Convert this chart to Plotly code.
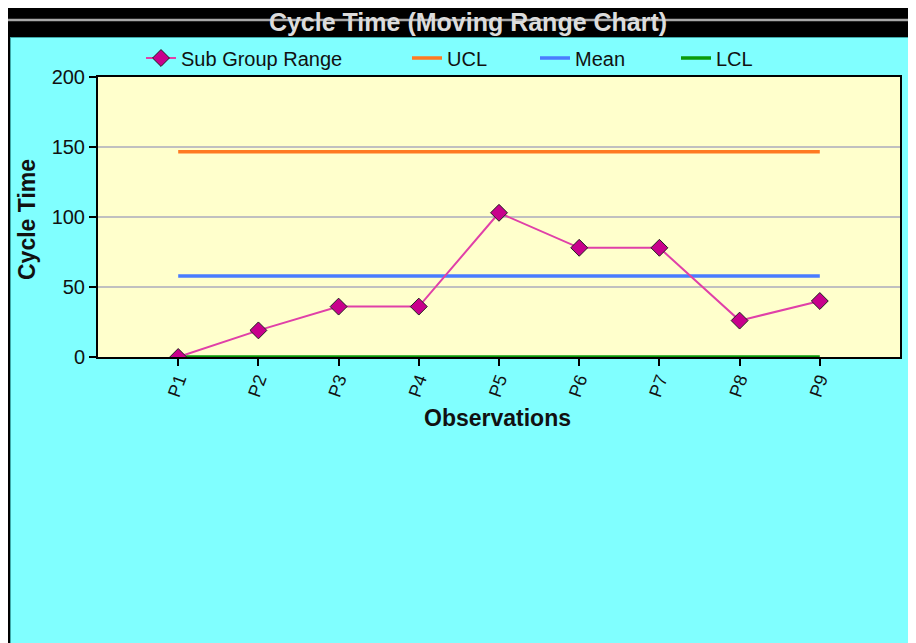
import plotly.graph_objects as go

categories = ["P1", "P2", "P3", "P4", "P5", "P6", "P7", "P8", "P9"]
sub_group_range = [0, 19, 36, 36, 103, 78, 78, 26, 40]
ucl_value = 146.6
mean_value = 57.9
lcl_value = 0
y_ticks = [0, 50, 100, 150, 200]

# the page adds an 8px body margin; coordinates below are page pixels
OFF = 8
W, H = 916 - OFF, 643 - OFF
L, R, T, B = 98 - OFF, 900 - OFF, 77 - OFF, 357 - OFF  # plot area in figure pixels


def px(x):
    return (x - OFF - L) / (R - L)


def py(y):
    return (B - (y - OFF)) / (B - T)


FONT = "Liberation Sans"

fig = go.Figure()

fig.add_trace(go.Scatter(
    x=categories, y=[ucl_value] * len(categories), mode="lines", name="UCL",
    line=dict(color="#ff7a22", width=3.5), legend="legend2"))
fig.add_trace(go.Scatter(
    x=categories, y=[mean_value] * len(categories), mode="lines", name="Mean",
    line=dict(color="#4a7cff", width=3.5), legend="legend3"))
fig.add_trace(go.Scatter(
    x=categories, y=[lcl_value] * len(categories), mode="lines", name="LCL",
    line=dict(color="#0a9a0a", width=3.5), legend="legend4"))
fig.add_trace(go.Scatter(
    x=categories, y=sub_group_range, mode="lines+markers", name="Sub Group Range",
    line=dict(color="#e040a8", width=2),
    marker=dict(symbol="diamond", size=13, color="#c8008c",
                line=dict(color="#202020", width=1)),
    legend="legend"))

shapes = [
    dict(type="rect", xref="paper", yref="paper", x0=px(8), x1=px(916 + 20), y0=py(6), y1=py(37),
         fillcolor="#000000", line=dict(width=0), layer="below"),
    dict(type="rect", xref="paper", yref="paper", x0=px(8), x1=px(10), y0=py(37), y1=py(660),
         fillcolor="#000000", line=dict(width=0), layer="below"),
    dict(type="rect", xref="paper", yref="paper", x0=px(10), x1=px(11), y0=py(37), y1=py(660),
         fillcolor="#40a8a8", line=dict(width=0), layer="below"),
    dict(type="rect", xref="paper", yref="paper", x0=px(10), x1=px(936), y0=py(37), y1=py(38),
         fillcolor="#40a8a8", line=dict(width=0), layer="below"),
    dict(type="line", xref="paper", yref="paper", x0=px(0), x1=px(936), y0=py(20), y1=py(20),
         line=dict(color="#a8a8a8", width=2.5), layer="above"),
]

annotations = [
    dict(text="<b>Cycle Time</b>", xref="paper", yref="paper", x=px(27), y=py(220),
         showarrow=False, textangle=-90, font=dict(family=FONT, size=23, color="#111111"),
         xanchor="center", yanchor="middle"),
    dict(text="<b>Observations</b>", xref="paper", yref="paper", x=px(497), y=py(418),
         showarrow=False, font=dict(family=FONT, size=23, color="#111111"),
         xanchor="center", yanchor="middle"),
]

leg_common = dict(orientation="h", bgcolor="rgba(0,0,0,0)", borderwidth=0,
                  font=dict(family=FONT, size=20, color="#111111"),
                  yanchor="middle", xanchor="left", y=py(58))

fig.update_layout(
    width=W, height=H,
    margin=dict(l=L, r=W - R, t=T, b=H - B),
    paper_bgcolor="#80ffff",
    plot_bgcolor="#ffffcc",
    title=dict(text="<b>Cycle Time (Moving Range Chart)</b>", xref="container", yref="container",
               x=(468 - OFF) / W, y=1 - (22.5 - OFF) / H, xanchor="center", yanchor="middle",
               font=dict(family=FONT, size=25, color="#dcdcdc")),
    legend=dict(x=px(141), **leg_common),
    legend2=dict(x=px(407), **leg_common),
    legend3=dict(x=px(535), **leg_common),
    legend4=dict(x=px(676), **leg_common),
    shapes=shapes,
    annotations=annotations,
    xaxis=dict(type="category", categoryorder="array", categoryarray=categories,
               range=[-1, 9], showgrid=False, zeroline=False,
               showline=True, linecolor="#000000", linewidth=2, mirror=True,
               ticks="outside", ticklen=7, tickcolor="#000000", tickwidth=1.5,
               ticklabelstandoff=-4,
               tickangle=-70, tickfont=dict(family=FONT, size=18, color="#111111")),
    yaxis=dict(range=[0, 200], tickvals=y_ticks, showgrid=True, gridcolor="#c0c0c0",
               gridwidth=1.5, zeroline=False,
               showline=True, linecolor="#000000", linewidth=2, mirror=True,
               ticks="outside", ticklen=7, tickcolor="#000000", tickwidth=1.5,
               tickfont=dict(family=FONT, size=20, color="#111111")),
    showlegend=True,
)

fig.write_html(
    "out.html",
    post_script="document.documentElement.style.overflow='hidden';",
)
